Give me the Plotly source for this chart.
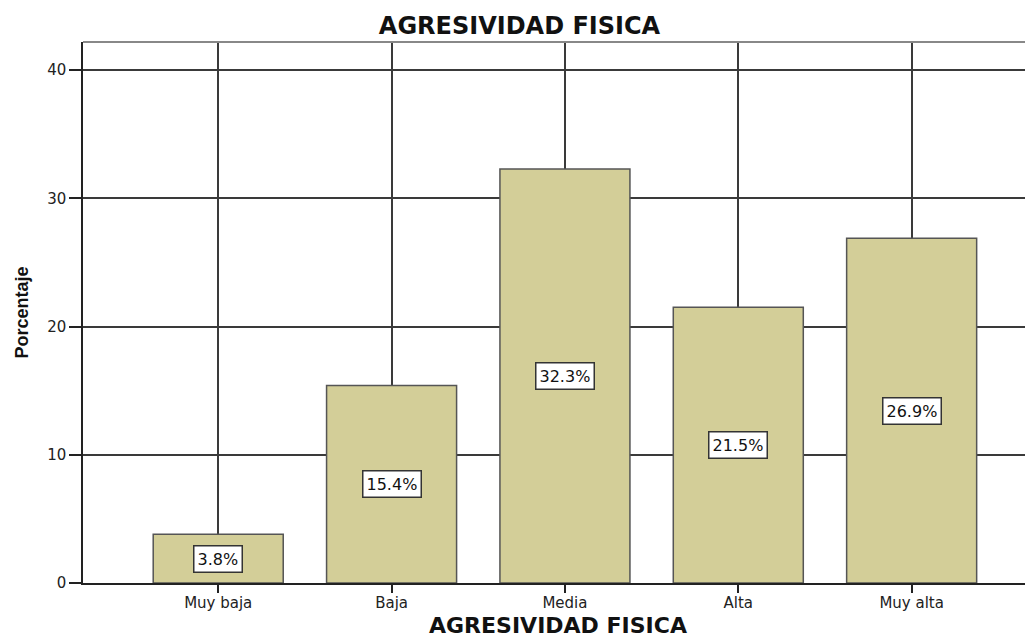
import plotly.graph_objects as go

categories = ["Muy baja", "Baja", "Media", "Alta", "Muy alta"]
values = [3.8, 15.4, 32.3, 21.5, 26.9]
labels = ["3.8%", "15.4%", "32.3%", "21.5%", "26.9%"]
y_ticks = [0, 10, 20, 30, 40]

FONT = "DejaVu Sans, Liberation Sans, Arial, sans-serif"

fig = go.Figure()
fig.add_trace(go.Bar(
    x=categories, y=values, width=0.75,
    marker=dict(color="#d3ce98", line=dict(color="#555555", width=1.5)),
    hoverinfo="skip",
))

for c, v, t in zip(categories, values, labels):
    fig.add_annotation(x=c, y=v / 2, text=t, showarrow=False,
                       font=dict(family=FONT, size=16, color="#111111"),
                       bgcolor="white", bordercolor="#333333", borderwidth=1.5,
                       borderpad=3)

fig.add_shape(type="line", xref="paper", yref="paper", x0=0, x1=1, y0=1, y1=1,
              line=dict(color="#888888", width=2))

# page has an 8px body margin; figure coordinates compensate for it
W, H = 1025, 632
fig.update_layout(
    width=W, height=H,
    margin=dict(l=75, r=0, t=34, b=57, autoexpand=False),
    paper_bgcolor="white", plot_bgcolor="white",
    showlegend=False,
    title=dict(text="<b>AGRESIVIDAD FISICA</b>", x=(519.5 - 8) / W, xanchor="center",
               xref="container", y=1 - (25.5 - 8) / H, yanchor="middle", yref="container",
               font=dict(family=FONT, size=24, color="#111111")),
    font=dict(family=FONT, size=15, color="#222222"),
)
fig.update_xaxes(
    range=[-0.78, 4.70], showgrid=True, gridcolor="#3a3a3a", gridwidth=1.5,
    showline=True, linecolor="#222222", linewidth=1.5,
    ticks="outside", ticklen=8, tickcolor="#222222", tickwidth=1.5,
    tickfont=dict(family=FONT, size=15, color="#222222"),
    ticklabelstandoff=-3,
    automargin=False,
    title=dict(text="<b>AGRESIVIDAD FISICA</b>", standoff=7,
               font=dict(family=FONT, size=22, color="#111111")),
)
fig.update_yaxes(
    range=[0, 42.2], tickvals=y_ticks, showgrid=True, gridcolor="#3a3a3a",
    gridwidth=1.5, zeroline=False,
    showline=True, linecolor="#222222", linewidth=1.5,
    ticks="outside", ticklen=12, tickcolor="#222222", tickwidth=1.5,
    tickfont=dict(family=FONT, size=15, color="#222222"),
    automargin=False,
    title=dict(text="<b>Porcentaje</b>", standoff=14,
               font=dict(family="Liberation Sans Narrow, Liberation Sans, sans-serif",
                         size=18, color="#111111")),
)

fig.write_html("out.html")
